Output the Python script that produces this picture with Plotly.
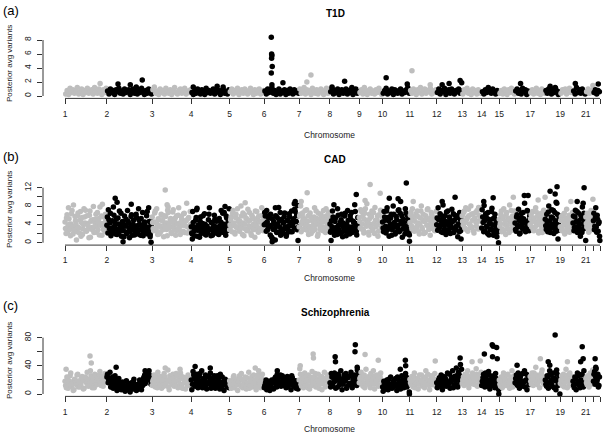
import plotly.graph_objects as go

# ---------------- data ----------------
chromosomes = list(range(1, 23))
# number of LD blocks per chromosome (x axis is block index)
chrom_blocks = [133, 144, 124, 122, 110, 111, 98, 93, 74, 87, 85, 81,
                62, 56, 50, 48, 48, 48, 40, 41, 24, 21]
tick_labels = ['1', '2', '3', '4', '5', '6', '7', '8', '9', '10', '11', '12',
               '13', '14', '15', '', '17', '', '19', '', '21', '', '']

panel_tags = ['(a)', '(b)', '(c)']
panel_titles = ['T1D', 'CAD', 'Schizophrenia']

# ---- T1D: per-chromosome block values (left to right) ----
t1d = [
    [0.3,0.8,0.2,1.1,0.5,0.9,0.4,0.7,1.2,0.3,0.6,1.0,0.2,0.8,0.5,1.1,0.4,0.7,0.9,0.3,1.2,0.6,0.4,1.0,0.7,0.2,0.9,0.5,1.1],
    [0.7,0.3,1.0,0.5,0.8,0.2,0.9,0.6,1.1,0.4,0.7,0.3,1.0,0.5,0.8,0.9,0.2,0.6,1.0,0.4,0.7,0.3,0.9,0.5,1.1,0.6,0.2,0.8,0.4,1.0,0.7,0.3],
    [0.9,1.3,0.4,0.7,0.2,1.0,0.5,0.8,0.3,1.1,0.6,0.4,0.9,0.2,0.7,1.2,0.5,0.3,0.8,1.0,0.4,0.6,1.1,0.3,0.7,0.5,0.9],
    [0.5,0.2,0.8,0.4,1.0,0.6,0.3,0.9,0.7,0.2,1.1,0.5,0.8,0.4,0.6,1.0,0.3,0.7,0.9,0.5,0.2,0.8,1.0,0.4,0.6,0.3,0.9],
    [0.6,1.0,0.3,0.8,0.5,1.1,0.2,0.7,0.9,0.4,1.0,0.6,0.3,0.8,1.1,0.5,0.2,0.9,0.4,0.7,1.0,0.3,0.6,0.8],
    [0.7,0.3,1.0,0.5,0.9,1.2,0.4,0.8,0.2,0.6,1.0,0.3,0.7,0.5,0.9,0.2,0.8,0.4,1.0,0.6,0.3,0.9,0.5,0.7,0.4],
    [1.0,0.4,0.7,1.2,0.3,0.9,0.5,0.8,0.2,1.1,0.6,0.4,0.9,0.3,0.7,1.0,0.5,0.2,0.8,1.1,0.4,0.6],
    [0.6,1.1,0.3,0.8,0.5,1.0,0.2,0.7,0.9,0.4,0.6,1.0,0.3,0.8,0.5,0.9,0.2,0.7,1.0,0.4,0.6],
    [0.5,0.9,0.3,1.2,0.6,0.2,0.8,1.0,0.4,0.7,0.3,0.9,0.5,1.1,0.6,0.2],
    [0.4,0.8,1.1,0.3,0.7,0.5,1.0,0.2,0.9,0.6,0.4,0.8,1.0,0.3,0.7,0.5,0.9,1.2,0.4],
    [0.8,0.4,1.0,0.6,0.2,0.9,0.5,1.2,0.3,0.7,1.0,0.4,0.8,0.6,1.1,0.3,0.7,0.5,0.9],
    [0.5,1.0,0.3,0.8,0.6,1.1,0.2,0.7,0.9,0.4,1.0,0.5,0.3,0.8,0.6,1.0,0.4,0.7],
    [0.3,0.9,0.6,1.1,0.4,0.7,0.2,1.0,0.5,0.8,0.3,0.9,0.6,0.4],
    [0.6,0.3,0.9,0.5,1.2,0.8,0.4,1.0,0.6,0.3,0.8,0.5],
    [0.4,0.8,0.3,1.0,0.6,0.2,0.9,0.5,1.1,0.7,0.3],
    [0.7,1.0,0.4,0.8,0.3,1.1,0.6,0.9,0.2,0.7,0.5],
    [0.5,0.9,0.3,0.7,1.1,0.4,0.8,0.2,1.0,0.6,0.4],
    [0.8,0.4,1.0,0.6,0.3,0.9,0.5,1.1,0.7,0.2,0.6],
    [0.4,0.9,0.6,1.0,0.3,0.7,1.1,0.5,0.8],
    [0.7,0.3,1.2,0.5,0.9,0.4,1.0,0.6,0.3],
    [0.6,1.0,0.4,0.8,0.5],
    [0.5,0.9,0.3,0.8,0.6],
]
t1d_more = [[] for _ in range(22)]
# T1D outlying blocks: genome-wide block index and value
t1d_peak_block = [111, 168, 207, 226, 245, 407, 483, 502, 655, 656, 657, 656, 658, 655, 657,
                  692, 768, 781, 848, 888, 911, 1020, 1087, 1102, 1160, 1198, 1220, 1255,
                  1260, 1447, 1541, 1557, 1621, 1677, 1694]
t1d_peak_val = [1.8, 1.7, 1.6, 1.3, 2.3, 1.3, 1.4, 1.3, 8.4, 6.0, 5.8, 5.4, 4.2, 3.3, 1.6,
                1.9, 2.0, 3.0, 1.3, 2.1, 1.2, 2.6, 1.7, 3.6, 1.6, 1.6, 1.8, 2.2,
                1.9, 1.8, 1.4, 1.2, 1.8, 1.5, 1.7]

# ---- CAD ----
cad = [
    [3.1,5.4,2.2,7.6,4.0,1.5,6.3,3.6,8.2,2.7,4.8,0.6,5.9,3.3,2.1,6.8,4.4,1.8,3.9,5.6,7.1,2.5,4.2,3.0,6.0,1.2,4.9,2.8,7.9,3.5,5.1,2.3,6.6,4.6,1.7,3.8,5.8,8.4,2.9,4.3,6.2,3.4],
    [5.6,7.2,3.1,6.4,2.4,4.8,7.8,3.6,1.9,5.2,2.8,4.1,6.9,3.3,1.4,4.6,2.6,5.8,3.8,2.2,7.0,4.3,1.1,3.5,6.1,2.9,4.9,1.7,3.2,5.5,2.5,7.4,4.0,1.6,3.7,6.6,2.3,4.5,3.0,5.9,1.9,7.6,3.4,4.7,2.7],
    [4.4,2.6,6.5,3.2,7.4,1.8,5.0,3.7,2.4,6.0,4.8,1.3,3.9,5.7,2.9,7.1,4.1,3.3,5.3,2.0,6.7,3.6,4.6,1.6,5.9,3.0,7.6,4.3,2.5,5.1,3.8,6.3,2.2,4.7,8.6,3.4,5.5,2.8,4.0],
    [2.1,6.8,3.4,1.5,4.9,7.2,2.7,3.8,1.2,5.6,2.4,4.2,3.1,6.3,1.8,3.6,2.2,5.0,7.6,2.9,4.4,1.6,3.3,6.0,2.5,4.7,3.0,1.9,5.3,3.7,7.0,2.3,4.1,6.6,3.2,5.8,2.6,4.5,7.4],
    [3.9,5.6,2.4,7.0,4.3,1.9,6.2,3.5,5.1,2.8,4.7,8.0,3.2,6.5,1.5,4.0,5.4,2.6,7.3,3.7,4.9,2.1,6.0,3.0,5.2,1.2,4.4,6.8,3.3,5.8,2.7,4.6,7.6,3.8,5.0],
    [6.6,4.2,7.0,2.8,5.4,3.6,6.2,1.2,0.8,4.6,3.0,5.9,2.2,4.0,7.7,3.4,1.6,5.1,2.6,4.4,6.5,3.1,1.9,4.8,3.7,5.6,2.4,6.9,3.9,5.2,7.3,4.6,6.0,8.1,3.5],
    [5.8,8.0,4.2,6.5,2.9,5.0,3.6,7.2,4.7,1.8,6.1,3.3,5.5,2.5,4.9,7.6,3.9,5.3,1.4,6.4,4.1,2.8,5.7,3.4,7.0,4.5,2.2,5.9,3.7,6.7,4.0],
    [2.3,4.8,6.9,3.1,1.6,5.4,2.7,7.4,3.8,2.0,4.5,6.2,1.3,3.4,5.8,2.5,4.1,7.0,3.0,1.9,5.1,6.6,2.9,4.4,8.3,3.6,1.7,5.5,4.0],
    [4.6,7.2,3.0,5.8,2.1,6.4,3.9,8.5,4.8,1.7,5.3,3.4,6.9,2.6,4.2,7.7,3.5,5.0,1.4,6.1,4.4,2.8,5.6],
    [3.2,6.8,4.9,2.1,7.6,5.5,1.4,3.9,6.2,2.8,8.0,4.4,1.9,5.7,3.3,7.0,2.4,6.4,4.1,1.2,5.1,3.7,7.4,2.6,6.0,4.6,1.7],
    [6.0,3.7,7.4,4.9,2.5,5.8,3.2,6.9,4.3,1.9,5.4,8.0,3.0,6.2,4.6,2.2,5.1,7.2,3.6,4.9,1.6,6.6,3.9,5.6,2.9,4.4,6.8],
    [5.4,7.6,3.3,6.3,2.4,4.9,8.2,3.8,5.9,1.8,4.3,6.9,2.9,5.1,3.6,7.3,4.6,2.2,6.0,3.1,5.5,1.3,4.0,6.6,2.6,4.8],
    [4.7,6.6,3.2,7.6,5.1,2.5,5.9,4.0,8.0,3.4,6.3,2.1,5.4,4.4,7.0,3.0,6.0,4.8,5.6],
    [7.2,4.4,8.1,2.6,5.7,3.5,6.6,1.7,4.9,3.0,7.5,5.2,2.2,6.2,3.9,1.3,4.6,2.8],
    [3.6,6.1,2.4,5.3,7.4,4.0,1.8,6.6,3.1,5.0,8.2,4.5,2.7,5.8,3.4,6.9],
    [2.9,5.6,3.8,7.3,1.9,4.7,6.4,3.1,5.2,8.6,2.4,4.1,6.9,3.5,5.8],
    [5.2,3.4,6.8,2.6,4.7,7.6,3.9,5.8,2.1,6.2,4.4,3.0,5.5,7.1,4.0],
    [3.7,6.2,2.4,8.0,4.8,3.1,7.2,5.4,2.0,6.6,4.1,8.6,3.3,5.9,2.7],
    [4.9,2.6,6.0,3.8,1.9,5.4,7.3,3.1,4.5,2.3,5.8,3.5,6.6],
    [5.8,3.3,7.1,4.6,2.2,6.5,3.9,1.4,5.2,7.8,3.0,4.7,6.2],
    [4.2,6.4,3.1,5.5,2.7,7.0,4.8,3.6],
    [6.4,3.6,7.6,2.3,5.1,4.2,1.4],
]
cad_more = [
    [4.5,2.0,6.1,3.7,5.2,2.9,4.1,7.0,1.9,3.4,5.7,4.0,2.4,6.5,3.2,4.9,1.4,5.5,3.0,7.4,4.3,2.6,5.9,3.8,1.1,6.9,4.7,3.3,5.0,2.2,4.4,6.2,3.6,2.8,5.3,7.8,4.2,1.6,3.9,5.6,2.5,4.8],
    [3.8,2.1,5.0,4.3,1.5,3.2,2.6,6.0,4.4,3.0,1.8,5.4,2.3,3.9,6.4,2.7,4.2,1.3,3.6,5.1,2.0,4.7,3.1,2.5,5.7,1.6,4.0,3.4,2.2,6.2,3.7,1.9,4.9,2.8,5.3,3.3,1.5,4.1,2.4,3.5,6.8,2.9,4.6,1.8,3.9],
    [5.6,3.1,4.5,6.9,2.7,4.0,5.2,1.9,3.5,6.2,4.8,2.9,5.9,3.4,4.3,1.5,6.6,3.8,5.0,2.3,4.6,7.2,3.0,5.4,2.6,4.1,6.0,3.3,1.8,5.7,4.2,2.5,6.4,3.7,4.9,2.1,5.3,3.6,6.8],
    [3.5,1.9,4.4,2.6,3.1,5.5,1.4,3.8,2.8,4.7,2.0,3.3,5.9,2.4,4.0,1.7,3.6,2.9,6.2,3.0,1.5,4.3,2.5,3.7,5.1,2.1,3.4,4.8,1.8,2.7,4.5,3.2,6.4,2.3,3.9,1.6,5.4,2.9,4.1],
    [2.8,5.0,3.6,6.4,4.1,2.2,5.5,3.3,7.4,4.6,2.5,3.9,5.8,1.8,4.3,6.1,3.0,5.2,2.7,4.8,6.6,3.5,1.6,5.6,4.0,2.9,6.9,3.7,5.3,2.3,4.5,3.1,5.9,4.2,2.6],
    [3.9,5.8,2.5,4.5,3.3,6.0,1.7,3.8,5.2,2.9,4.1,0.6,3.6,5.5,2.3,4.8,6.6,3.0,2.0,4.3,5.7,3.4,1.4,4.9,2.7,6.3,3.7,4.4,2.4,5.0,3.2,6.8,4.6,2.8,5.9],
    [3.4,6.2,2.4,4.6,5.5,3.1,7.0,4.0,2.7,5.8,3.6,6.5,2.0,4.8,3.8,5.6,2.9,6.9,4.3,1.9,5.1,3.5,6.1,4.5,2.6,5.3,3.2,7.4,4.9,3.0,5.7],
    [4.1,2.6,3.5,5.6,2.1,4.6,3.3,1.8,6.0,2.9,3.9,5.0,2.3,4.3,3.1,6.4,1.5,3.7,4.9,2.7,5.9,3.4,2.2,4.7,3.0,6.8,2.5,4.2,3.6],
    [5.5,3.2,6.8,4.1,2.7,5.1,7.4,3.6,4.6,2.3,6.2,4.0,5.7,3.0,6.6,2.0,4.9,3.8,5.9,2.5,4.4,7.1,3.4],
    [4.5,2.4,5.6,3.6,6.9,2.9,4.8,3.1,5.4,1.6,4.0,6.2,3.4,2.2,5.0,3.8,7.2,2.7,4.6,5.8,3.0,4.3,1.9,6.5,3.5,5.2,2.5],
    [4.4,6.7,3.0,5.2,2.8,4.7,6.3,3.6,5.7,2.4,4.1,6.9,3.3,5.0,2.0,4.6,5.9,3.8,7.4,2.9,5.3,4.0,6.1,3.1,4.8,2.6,5.5],
    [3.9,2.7,5.0,3.4,6.0,4.2,2.2,5.3,3.0,4.6,6.7,2.6,3.8,5.6,2.0,4.4,3.2,6.3,4.9,2.8,3.6,5.8,4.1,2.4,5.1,3.5],
    [5.9,3.8,6.9,4.4,2.9,5.5,7.3,4.1,3.3,6.2,4.9,2.6,5.2,6.6,3.6,4.6,7.7,3.1,5.0],
    [3.2,5.6,2.4,4.8,6.3,3.6,2.0,5.1,4.2,2.8,6.8,3.9,1.6,5.4,3.0,4.5,2.3,3.7],
    [5.1,4.2,6.9,3.0,5.6,2.7,4.7,6.3,3.8,5.4,2.2,4.5,7.0,3.5,5.0,4.1],
    [4.3,2.5,6.1,3.4,4.9,2.1,5.5,3.9,6.6,2.9,4.4,3.2,7.0,4.8,2.6],
    [3.9,6.1,4.6,2.9,5.4,3.5,6.7,4.2,2.5,5.0,3.8,6.4,2.2,4.9,5.8],
    [5.1,2.9,4.4,6.7,3.6,2.2,5.6,4.0,7.0,3.1,4.8,2.5,6.2,3.9,5.3],
    [3.5,5.7,2.9,4.6,6.4,2.2,4.0,5.2,3.3,6.0,4.4,2.7,5.0],
    [4.3,2.6,5.6,3.5,6.8,2.9,4.8,3.1,5.9,2.2,4.1,6.4,3.6],
    [5.6,3.4,4.6,2.3,6.1,3.9,5.0,4.4],
    [4.8,2.8,5.6,3.4,6.0,2.5,4.5],
]
cad_peak_block = [159, 165, 184, 210, 270, 273, 318, 324, 327, 404, 419, 508, 572,
                  658, 668, 728, 731, 740, 750, 769, 845, 854, 925, 953, 969, 1001,
                  1030, 1058, 1066, 1084, 1094, 1106, 1198, 1239, 1258, 1330, 1360, 1377,
                  1424, 1459, 1471, 1503, 1525, 1541, 1557, 1560, 1563, 1566, 1607,
                  1627, 1646, 1649, 1654, 1677, 1699]
cad_peak_val = [9.7, 8.8, 0.2, 8.4, 1.3, 0.1, 11.5, 8.3, 7.8, 0.8, 7.5, 7.9, 8.7,
                0.2, 7.6, 8.5, 9.0, 0.5, 9.0, 10.9, 0.5, 8.3, 10.5, 9.2, 12.7, 10.8,
                9.7, 9.6, 9.0, 13.0, 0.3, 9.0, 9.0, 9.9, 0.8, 9.0, 9.8, 0.0,
                9.9, 10.3, 10.3, 9.3, 9.9, 11.2, 10.6, 8.8, 12.2, 0.8, 9.0,
                9.0, 8.6, 12.0, 0.5, 9.5, 0.5]

# ---- Schizophrenia ----
scz = [
    [12,24,8,18,30,14,5,21,16,27,10,19,13,25,7,22,17,31,11,15,26,9,20,28,14,23,18,32,12,25,16,29,21],
    [28,20,31,15,24,12,26,18,9,22,14,6,17,11,4,19,8,13,3,16,7,21,10,5,14,9,18,6,12,24,15,29,20,33,26,17],
    [18,27,10,22,31,14,25,8,20,29,12,17,34,6,23,15,28,11,19,26,9,21,30,13,24,16,7,20,27,12,18],
    [6,32,22,14,28,9,25,18,33,12,20,27,7,16,24,30,11,19,26,8,15,22,13,28,10,17,5,21,12,18,9],
    [14,8,20,26,11,17,5,23,13,29,9,18,24,7,15,31,12,21,10,27,16,6,22,33,14,19,28,11],
    [12,20,8,14,5,10,17,7,22,13,28,18,24,11,26,16,21,9,25,15,19,6,23,12,17,8,14,10],
    [36,14,24,9,30,18,12,27,7,21,32,15,25,10,19,28,13,22,6,17,31,11,24,20,14],
    [10,24,16,30,8,20,28,13,33,6,22,18,29,11,25,15,31,9,21,27,14,34,19],
    [22,31,14,26,9,35,18,24,12,29,16,33,7,20,27,11,23,30,15],
    [4,15,9,20,6,13,24,8,17,11,22,5,14,19,7,26,12,18,29,10,21,3],
    [16,25,10,30,14,21,7,27,18,12,24,9,33,15,20,6,26,13,22,29,11],
    [9,20,14,27,6,17,24,11,30,15,8,22,33,12,19,26,10,28,16,35],
    [20,12,28,16,33,9,24,18,30,14,22,36,11,26,17,31],
    [18,28,10,24,15,32,7,20,13,26,9,22,16,6],
    [14,24,9,30,17,12,27,20,8,22,33,15,26],
    [22,14,30,8,26,18,11,33,20,6,24,16],
    [18,30,12,25,38,15,22,9,28,34,16,24],
    [14,26,8,33,19,11,30,22,6,28,16,24],
    [20,12,28,16,35,9,24,30,14,22],
    [12,24,6,30,18,9,27,15,33,21],
    [16,26,10,30,20,34],
    [28,14,36,20,10,24],
]
scz_more = [
    [18,9,22,14,26,11,17,6,20,13,28,15,10,23,19,8,24,16,12,21,33,14,18,9,25,13,20,27,15,22,11,19,24],
    [24,16,22,10,19,8,14,21,5,12,17,7,10,14,6,11,9,15,5,12,8,17,11,6,13,7,20,10,16,22,27,18,25,30,22,14],
    [12,21,16,26,9,19,13,23,17,11,24,15,20,10,26,18,13,22,16,29,11,19,14,25,8,21,17,23,12,15,22],
    [20,14,27,11,17,23,13,29,16,9,22,18,12,25,15,20,8,14,23,17,11,26,19,7,16,24,13,20,15,10,14],
    [19,12,15,24,9,20,14,17,26,11,21,13,19,10,23,16,8,18,25,13,20,11,17,27,15,9,22,16],
    [9,16,6,18,11,14,20,8,16,24,10,19,15,27,13,20,12,17,22,10,18,14,26,16,11,19,13,7],
    [20,28,11,17,22,14,25,9,18,24,12,20,16,29,13,21,8,18,25,15,22,10,19,27,16],
    [16,29,12,22,18,26,10,24,17,20,14,27,19,8,23,15,26,12,20,17,24,12,28],
    [16,24,20,11,27,15,21,18,25,9,19,23,14,26,17,21,12,24,19],
    [10,18,13,7,16,21,11,14,9,19,15,12,24,8,17,13,20,9,15,24,12,17],
    [21,13,18,25,9,16,22,14,19,27,11,17,23,15,28,12,18,24,16,19,14],
    [16,12,23,19,10,25,14,21,18,13,28,17,23,9,25,14,21,31,20,24],
    [15,24,13,21,18,26,14,20,16,24,19,13,28,21,15,23],
    [12,23,15,30,20,11,27,17,24,12,19,29,14,10],
    [20,11,18,25,13,21,16,28,12,18,24,10,20],
    [16,27,12,19,23,14,29,17,10,28,19,13],
    [25,14,21,30,19,27,13,24,19,30,21,14],
    [20,11,24,16,28,14,23,9,19,34,12,20],
    [15,26,19,10,22,18,27,12,19,25],
    [18,9,22,15,26,12,20,28,10,17],
    [22,13,24,17,27,14],
    [18,32,24,16,28,12],
]
scz_peak_block = [3, 79, 83, 162, 254, 318, 365, 413, 461, 604, 674, 747, 788, 789,
                  858, 859, 921, 922, 928, 953, 995, 1065, 1081, 1082, 1094, 1176,
                  1243, 1255, 1256, 1293, 1319, 1332, 1357, 1358, 1360, 1371, 1373, 1378,
                  1436, 1510, 1535, 1540, 1557, 1572, 1596, 1638, 1643, 1646, 1684, 1686]
scz_peak_val = [35, 54, 44, 38, 33, 37, 35, 39, 37, 37, 33, 40, 57, 51,
                53, 46, 60, 70, 38, 56, 48, 35, 48, 40, 0, 47,
                37, 51, 42, 46, 47, 57, 70, 53, 68, 66, 50, 0,
                41, 50, 46, 41, 84, 0, 46, 46, 67, 50, 50, 38]

# ---------------- layout constants ----------------
W, H = 603, 434
FONT = 'Liberation Sans, Arial, Helvetica, sans-serif'
GRAY = '#bebebe'
BLACK = '#000000'

starts = []
acc = 0
for nb in chrom_blocks:
    starts.append(acc)
    acc += nb
total_blocks = acc
tick_pos = starts + [total_blocks]

# pixel geometry of each panel: pixel of value 0, pixels per unit, top pixel of plot region
panels = [
    dict(zero=96.0, ppu=7.0, top=33.0, tickvals=[0, 2, 4, 6, 8],
         ticktext=['0', '2', '4', '6', '8'], tag_y=10, title_y=14, xlab_y=135, ylab_y=64),
    dict(zero=242.7, ppu=55.0 / 12, top=177.0, tickvals=[0, 2, 4, 6, 8, 10, 12],
         ticktext=['0', '', '4', '', '8', '', '12'], tag_y=157, title_y=159, xlab_y=278, ylab_y=210),
    dict(zero=394.0, ppu=56.3 / 80, top=327.0, tickvals=[0, 20, 40, 60, 80],
         ticktext=['0', '', '40', '', '80'], tag_y=305, title_y=312, xlab_y=429, ylab_y=361),
]
data_sets = [(t1d, t1d_more, t1d_peak_block, t1d_peak_val),
             (cad, cad_more, cad_peak_block, cad_peak_val),
             (scz, scz_more, scz_peak_block, scz_peak_val)]

px_per_block = (600.0 - 65.0) / total_blocks
x_left_px, x_first_px = 43.0, 65.0


def chrom_of(block):
    for ci in range(len(starts) - 1, -1, -1):
        if block >= starts[ci]:
            return ci
    return 0


def build(band, more, peak_block, peak_val):
    pts = []
    for ci, vals in enumerate(band):
        n = len(vals)
        for i, v in enumerate(vals):
            pts.append((starts[ci] + (i + 0.5) * chrom_blocks[ci] / n, v, ci))
    for ci, vals in enumerate(more):
        n = len(vals)
        for i, v in enumerate(vals):
            pts.append((starts[ci] + (i + 0.05) * chrom_blocks[ci] / n, v, ci))
    for b, v in zip(peak_block, peak_val):
        pts.append((b + 0.5, v, chrom_of(b)))
    pts.sort(key=lambda t: t[0])
    xs = [p[0] for p in pts]
    ys = [p[1] for p in pts]
    cs = [BLACK if (p[2] % 2 == 1) else GRAY for p in pts]
    return xs, ys, cs


fig = go.Figure()
layout = dict(width=W, height=H, margin=dict(l=0, r=0, t=0, b=0, pad=0, autoexpand=False),
              paper_bgcolor='white', plot_bgcolor='white', showlegend=False,
              hovermode=False, dragmode=False,
              font=dict(family=FONT, color='black'))
shapes, annotations = [], []

for p, (spec, ds) in enumerate(zip(panels, data_sets)):
    sfx = '' if p == 0 else str(p + 1)
    xs, ys, cs = build(*ds)
    fig.add_trace(go.Scatter(x=xs, y=ys, mode='markers', xaxis='x' + sfx, yaxis='y' + sfx,
                             marker=dict(size=5.5, color=cs, line=dict(width=0)),
                             hoverinfo='skip'))
    bottom = spec['zero'] + 2.4
    top = spec['top']
    layout['xaxis' + sfx] = dict(
        domain=[x_left_px / W, 1.0],
        range=[(x_left_px - x_first_px) / px_per_block, (W - x_first_px) / px_per_block],
        anchor='y' + sfx, tickmode='array', tickvals=tick_pos, ticktext=tick_labels,
        ticks='outside', ticklen=5, tickwidth=0.8, tickcolor='black', automargin=False,
        showgrid=False, zeroline=False, showline=False, fixedrange=True,
        tickfont=dict(size=8.5, family=FONT, color='#222'), ticklabelstandoff=2)
    layout['yaxis' + sfx] = dict(
        domain=[1 - bottom / H, 1 - top / H],
        range=[-(bottom - spec['zero']) / spec['ppu'], (spec['zero'] - top) / spec['ppu']],
        anchor='x' + sfx, tickmode='array', tickvals=spec['tickvals'], ticktext=spec['ticktext'],
        ticks='outside', ticklen=5, tickwidth=0.8, tickcolor='black', tickangle=-90,
        automargin=False, showgrid=False, zeroline=False, showline=False, fixedrange=True,
        tickfont=dict(size=8.5, family=FONT, color='#222'), ticklabelstandoff=3)
    xr = 'x' + sfx
    yr = 'y' + sfx
    shapes.append(dict(type='line', xref=xr + ' domain', yref=yr, x0=0, x1=0,
                       y0=0, y1=spec['tickvals'][-1], line=dict(color='black', width=0.8)))
    shapes.append(dict(type='line', xref=xr, yref=yr + ' domain', x0=0, x1=total_blocks,
                       y0=0, y1=0, line=dict(color='black', width=0.8)))
    annotations += [
        dict(text=panel_tags[p], x=1 / W, y=1 - spec['tag_y'] / H, xref='paper', yref='paper',
             xanchor='left', yanchor='middle', showarrow=False, font=dict(size=13, family=FONT)),
        dict(text='<b>' + panel_titles[p] + '</b>', x=335 / W, y=1 - spec['title_y'] / H,
             xref='paper', yref='paper', xanchor='center', yanchor='middle', showarrow=False,
             font=dict(size=10, family=FONT)),
        dict(text='Chromosome', x=330 / W, y=1 - spec['xlab_y'] / H, xref='paper', yref='paper',
             xanchor='center', yanchor='middle', showarrow=False,
             font=dict(size=8.5, family=FONT, color='#222')),
        dict(text='Posterior avg variants', x=9 / W, y=1 - spec['ylab_y'] / H, xref='paper',
             yref='paper', xanchor='center', yanchor='middle', textangle=-90, showarrow=False,
             font=dict(size=8, family=FONT, color='#222')),
    ]

layout['shapes'] = shapes
layout['annotations'] = annotations
fig.update_layout(**layout)
fig.write_html('out.html',
               config={'displayModeBar': False, 'staticPlot': True},
               post_script="document.body.style.margin='0';document.body.style.padding='0';"
                           "document.body.style.overflow='hidden';")
